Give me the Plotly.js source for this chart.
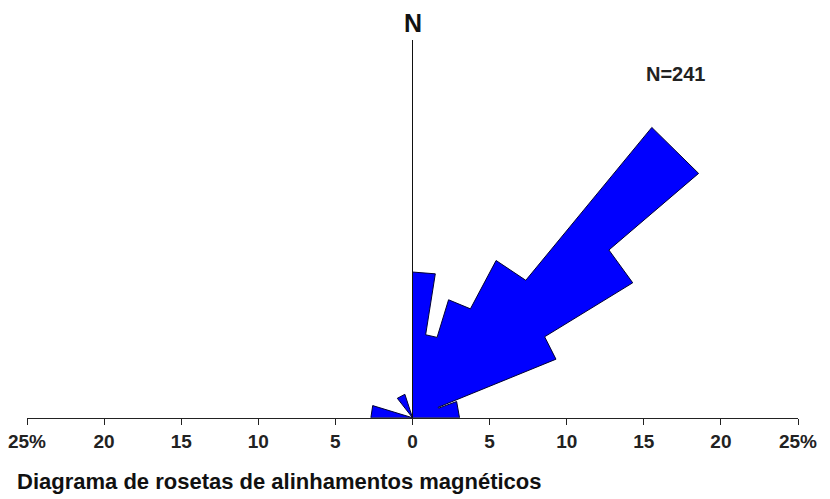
<!DOCTYPE html>
<html>
<head>
<meta charset="utf-8">
<script src="https://cdn.plot.ly/plotly-3.0.1.min.js"></script>
<style>
  html, body { margin: 0; padding: 0; background: #fff; }
  #chart { width: 830px; height: 499px; }
</style>
</head>
<body>
<div id="chart"></div>
<script>
// Rose diagram bins (azimuth, degrees clockwise from N)
var binStart = [0, 9, 17, 28, 39.5, 49.5, 58.5, 67.8, 69.8, 270, 322];
var binEnd   = [9, 17, 28, 39.5, 49.5, 58.5, 67.8, 69.8, 90, 287, 342];
// Frequency (%) of each bin
var freqPct  = [9.45, 5.45, 8.0, 11.55, 24.4, 16.75, 10.05, 1.8, 3.05, 2.7, 1.6];

// Bottom scale tick labels
var tickVals  = [-25, -20, -15, -10, -5, 0, 5, 10, 15, 20, 25];
var tickTexts = ["25%", "20", "15", "10", "5", "0", "5", "10", "15", "20", "25%"];

var sampleLabel = "N=241";
var northLabel  = "N";
var captionText = "Diagrama de rosetas de alinhamentos magnéticos";

// Build rose outline (straight-ended petals, outline only around the union)
var rr = [0], tt = [0];
for (var i = 0; i < binStart.length; i++) {
  var contiguous = i > 0 && Math.abs(binStart[i] - binEnd[i - 1]) < 1e-9;
  if (!contiguous && i > 0) { rr.push(0); tt.push(binEnd[i - 1]); rr.push(0); tt.push(binStart[i]); }
  rr.push(freqPct[i]); tt.push(binStart[i]);
  rr.push(freqPct[i]); tt.push(binEnd[i]);
}
rr.push(0); tt.push(binEnd[binEnd.length - 1]);

var traces = [{
  type: 'scatterpolar',
  r: rr, theta: tt,
  mode: 'lines', fill: 'toself',
  fillcolor: '#0000ff',
  line: { color: '#000033', width: 1 },
  hoverinfo: 'skip',
  subplot: 'polar'
}, {
  type: 'scatter',
  x: [0], y: [0], mode: 'markers',
  marker: { opacity: 0 }, hoverinfo: 'skip', showlegend: false,
  xaxis: 'x', yaxis: 'y'
}];

var fontFam = 'Liberation Sans, Arial, sans-serif';

var layout = {
  width: 830, height: 499,
  margin: { l: 27, r: 32, t: 32, b: 81 },
  paper_bgcolor: '#ffffff',
  plot_bgcolor: 'rgba(0,0,0,0)',
  showlegend: false,
  polar: {
    domain: { x: [0, 1], y: [0, 1] },
    sector: [0, 180],
    bgcolor: 'rgba(0,0,0,0)',
    radialaxis: { range: [0, 25], visible: false, showgrid: false },
    angularaxis: { visible: false, rotation: 90, direction: 'clockwise', showgrid: false, showline: false }
  },
  xaxis: {
    range: [-25, 25],
    tickvals: tickVals, ticktext: tickTexts,
    showline: true, linecolor: '#222', linewidth: 1,
    ticks: 'outside', ticklen: 6, tickcolor: '#222', tickwidth: 1,
    showgrid: false, zeroline: false, fixedrange: true,
    tickfont: { family: fontFam, size: 19, color: '#222', weight: 'bold' }
  },
  yaxis: { range: [0, 1], visible: false, fixedrange: true },
  shapes: [{
    type: 'line', xref: 'x', yref: 'paper',
    x0: 0, x1: 0, y0: 0, y1: (418 - 40) / 386,
    line: { color: '#111', width: 1 }
  }],
  annotations: [{
    text: northLabel, xref: 'x', yref: 'paper', x: 0, y: (418 - 23) / 386,
    xanchor: 'center', yanchor: 'middle', showarrow: false,
    font: { family: fontFam, size: 25, color: '#111', weight: 'bold' }
  }, {
    text: sampleLabel, xref: 'paper', yref: 'paper', x: (675.5 - 27) / 771, y: (418 - 74) / 386,
    xanchor: 'center', yanchor: 'middle', showarrow: false,
    font: { family: fontFam, size: 20, color: '#222', weight: 'bold' }
  }, {
    text: captionText, xref: 'paper', yref: 'paper', x: (15 - 27) / 771, y: (418 - 482) / 386,
    xanchor: 'left', yanchor: 'middle', showarrow: false,
    font: { family: fontFam, size: 22, color: '#111', weight: 'bold' }
  }]
};

Plotly.newPlot('chart', traces, layout, { staticPlot: true, displayModeBar: false });
</script>
</body>
</html>
